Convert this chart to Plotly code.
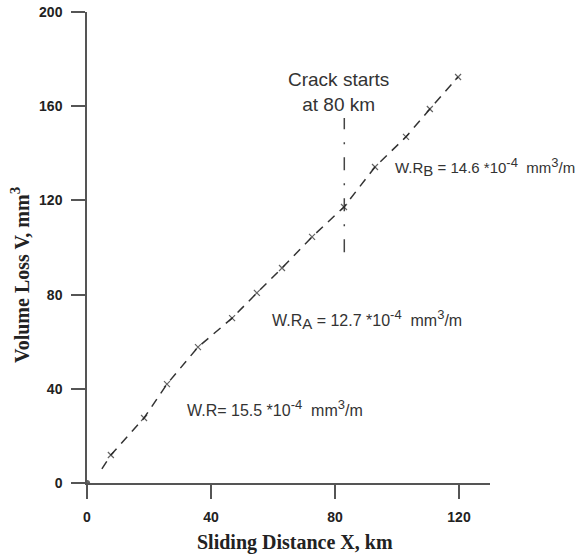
import plotly.graph_objects as go

# Data
dist_km = [0, 7.7, 18.4, 25.8, 35.8, 46.8, 54.8, 62.9, 72.6, 82.9, 92.9, 102.9, 110.6, 119.7]
vol_loss = [0, 11.9, 27.6, 42.0, 57.7, 70.0, 80.7, 91.3, 104.5, 117.2, 134.2, 147.0, 158.8, 172.4]
fit_x = [4.8, 7.7, 18.4, 25.8, 35.8, 46.8, 54.8, 62.9, 72.6, 82.9, 92.9, 102.9, 110.6, 119.7]
fit_y = [6.0, 11.9, 27.6, 42.0, 57.7, 70.0, 80.7, 91.3, 104.5, 117.2, 134.2, 147.0, 158.8, 172.4]
crack_x = [83, 83]
crack_y = [98, 155]
x_ticks = [0, 40, 80, 120]
y_ticks = [0, 40, 80, 120, 160, 200]

INK = "#333333"
fig = go.Figure()
fig.add_trace(go.Scatter(x=fit_x, y=fit_y, mode="lines",
                         line=dict(color="#333", width=1.5, dash="9px,7px"),
                         hoverinfo="skip", showlegend=False))
fig.add_trace(go.Scatter(x=crack_x, y=crack_y, mode="lines",
                         line=dict(color="#444", width=1.5, dash="13px,13px,2px,13px"),
                         hoverinfo="skip", showlegend=False))
fig.add_trace(go.Scatter(x=dist_km, y=vol_loss, mode="markers",
                         marker=dict(symbol=["circle"] + ["x-thin"] * (len(dist_km) - 1),
                                     size=[5] + [6] * (len(dist_km) - 1),
                                     color="#222",
                                     line=dict(color="#222", width=1.2)),
                         showlegend=False))


def sup(t, size=13):
    return f"<sup><span style='font-size:{size}px'>{t}</span></sup>"


def sub(t, size=13):
    return f"<sub><span style='font-size:{size}px'>{t}</span></sub>"


ann_font = dict(family="Liberation Sans, Arial", size=16, color=INK)
fig.add_annotation(x=81, y=166, xref="x", yref="y", showarrow=False,
                   text="Crack starts<br>at 80 km", align="center",
                   font=dict(family="Liberation Sans, Arial", size=19, color=INK))
fig.add_annotation(x=98.7, y=134.2, xref="x", yref="y", showarrow=False, xanchor="left",
                   text="W.R" + sub("B", 15) + " = 14.6 *10" + sup("-4") + "&nbsp; mm" + sup("3") + "/m",
                   font=dict(family="Liberation Sans, Arial", size=15, color=INK))
fig.add_annotation(x=59, y=69.6, xref="x", yref="y", showarrow=False, xanchor="left",
                   text="W.R" + sub("A", 15) + " = 12.7 *10" + sup("-4") + "&nbsp; mm" + sup("3") + "/m",
                   font=ann_font)
fig.add_annotation(x=31.6, y=31.8, xref="x", yref="y", showarrow=False, xanchor="left",
                   text="W.R= 15.5 *10" + sup("-4") + "&nbsp; mm" + sup("3") + "/m", font=ann_font)

title_font = dict(family="Liberation Serif, Times New Roman", size=20, color="#222")
# y axis title
fig.add_annotation(x=-0.166, y=0.442, xref="paper", yref="paper", showarrow=False,
                   textangle=-90, xanchor="center", yanchor="middle",
                   text="<b>Volume Loss V, mm" + sup("3", 15) + "</b>", font=title_font)
# x axis title
fig.add_annotation(x=0.516, y=-0.127, xref="paper", yref="paper", showarrow=False,
                   xanchor="center", yanchor="middle",
                   text="<b>Sliding Distance X, km</b>", font=title_font)

tick_font = dict(family="Liberation Sans, Arial", size=14, color="#222")
fig.update_xaxes(range=[0, 130], tickvals=x_ticks, ticktext=[f"<b>{v}</b>" for v in x_ticks],
                 showline=True, linecolor="#555", linewidth=1.5,
                 ticks="outside", ticklen=14, tickwidth=1.5, tickcolor="#555",
                 ticklabelstandoff=6, automargin=False,
                 showgrid=False, zeroline=False, tickfont=tick_font)
fig.update_yaxes(range=[0, 200], tickvals=y_ticks, ticktext=[f"<b>{v}</b>" for v in y_ticks],
                 showline=True, linecolor="#555", linewidth=1.5,
                 ticks="outside", ticklen=14, tickwidth=1.5, tickcolor="#555",
                 ticklabelstandoff=6, automargin=False,
                 showgrid=False, zeroline=False, tickfont=tick_font)

fig.update_layout(width=584, height=555, margin=dict(l=87, r=94, t=12, b=72),
                  plot_bgcolor="white", paper_bgcolor="white")
fig.write_html("out.html")
